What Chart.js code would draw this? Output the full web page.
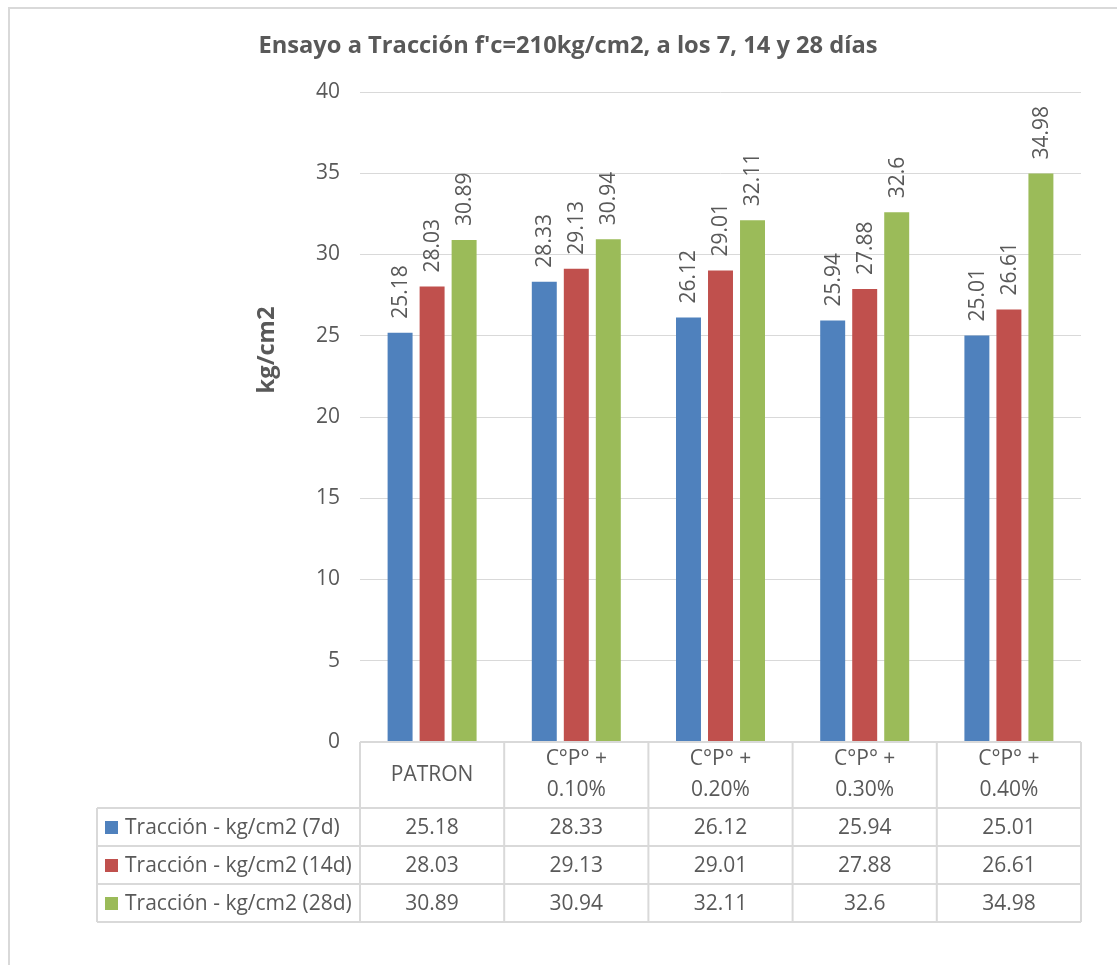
<!DOCTYPE html>
<html>
<head>
<meta charset="utf-8">
<script src="https://cdn.jsdelivr.net/npm/chart.js@4.4.1/dist/chart.umd.min.js"></script>
<style>
html, body { margin: 0; padding: 0; background: #fff; }
canvas { display: block; }
</style>
</head>
<body>
<canvas id="traccionChart" width="1117" height="965"></canvas>
<script>
// categorias (cada una en lineas para la fila de encabezado de la tabla)
var categorias = [['PATRON'], ['C°P° +', '0.10%'], ['C°P° +', '0.20%'], ['C°P° +', '0.30%'], ['C°P° +', '0.40%']];
var series = ['Tracción - kg/cm2 (7d)', 'Tracción - kg/cm2 (14d)', 'Tracción - kg/cm2 (28d)'];
var traccion7d = [25.18, 28.33, 26.12, 25.94, 25.01];
var traccion14d = [28.03, 29.13, 29.01, 27.88, 26.61];
var traccion28d = [30.89, 30.94, 32.11, 32.6, 34.98];
var colores = ['#4F81BD', '#C0504D', '#9BBB59'];
var yMin = 0, yMax = 40, yPaso = 5;

var titulo = "Ensayo a Tracción f'c=210kg/cm2, a los 7, 14 y 28 días";
var tituloEje = 'kg/cm2';
var fuente = '"Open Sans", "Noto Sans", sans-serif';
var gris = '#595959';
var linea = '#d9d9d9';

var valores = [traccion7d, traccion14d, traccion28d];

// dibuja marco, titulos, etiquetas de valores y tabla de datos
var extras = {
    id: 'extras',
    afterDraw: function(chart) {
        var ctx = chart.ctx;
        var area = chart.chartArea;
        var xs = chart.scales.x;
        ctx.save();

        // marco del grafico
        ctx.strokeStyle = linea;
        ctx.lineWidth = 2;
        ctx.strokeRect(9, 8, 1200, 1200);

        // titulo
        ctx.fillStyle = gris;
        ctx.font = 'bold 23.7px ' + fuente;
        ctx.textAlign = 'center';
        ctx.textBaseline = 'middle';
        ctx.fillText(titulo, 568, 46);

        // titulo eje y
        ctx.save();
        ctx.translate(267, 350);
        ctx.rotate(-Math.PI / 2);
        ctx.fillText(tituloEje, 0, 0);
        ctx.restore();

        // etiquetas sobre las barras
        ctx.font = '21px ' + fuente;
        ctx.textAlign = 'left';
        valores.forEach(function(serie, i) {
            var meta = chart.getDatasetMeta(i);
            meta.data.forEach(function(bar, j) {
                ctx.save();
                ctx.translate(bar.x + 1, bar.y - 14);
                ctx.rotate(-Math.PI / 2);
                ctx.fillText(String(serie[j]), 0, 0);
                ctx.restore();
            });
        });

        // tabla de datos
        var n = categorias.length;
        var ancho = (area.right - area.left) / n;
        var top = area.bottom;
        var filaEnc = 66, fila = 38;
        var izq = 97;
        var fondo = top + filaEnc + fila * series.length;

        ctx.strokeStyle = linea;
        ctx.lineWidth = 2;
        ctx.beginPath();
        // lineas horizontales
        ctx.moveTo(area.left, top); ctx.lineTo(area.right, top);
        for (var r = 0; r <= series.length; r++) {
            var yy = top + filaEnc + r * fila;
            ctx.moveTo(izq, yy); ctx.lineTo(area.right, yy);
        }
        // lineas verticales
        ctx.moveTo(izq, top + filaEnc); ctx.lineTo(izq, fondo);
        for (var c = 0; c <= n; c++) {
            var xx = area.left + c * ancho;
            ctx.moveTo(xx, top); ctx.lineTo(xx, fondo);
        }
        ctx.stroke();

        ctx.fillStyle = gris;
        ctx.font = '21px ' + fuente;
        ctx.textAlign = 'center';
        ctx.textBaseline = 'middle';
        categorias.forEach(function(lineas, j) {
            var cx = xs.getPixelForValue(j);
            var alto = 31;
            var y0 = top + filaEnc / 2 - (lineas.length - 1) * alto / 2;
            lineas.forEach(function(t, k) {
                ctx.fillText(t, cx, y0 + k * alto);
            });
        });

        series.forEach(function(nombre, i) {
            var cy = top + filaEnc + i * fila + fila / 2;
            ctx.fillStyle = colores[i];
            ctx.fillRect(105, cy - 6, 13, 13);
            ctx.fillStyle = gris;
            ctx.textAlign = 'left';
            ctx.fillText(nombre, 125, cy + 1);
            ctx.textAlign = 'center';
            valores[i].forEach(function(v, j) {
                ctx.fillText(String(v), xs.getPixelForValue(j), cy + 1);
            });
        });

        ctx.restore();
    }
};

var ctxB = document.getElementById('traccionChart').getContext('2d');
var grafico = new Chart(ctxB, {
    type: 'bar',
    data: {
        labels: categorias.map(function(l) { return l.join(' '); }),
        datasets: series.map(function(nombre, i) {
            return {
                label: nombre,
                data: valores[i],
                backgroundColor: colores[i],
                borderWidth: 0,
                categoryPercentage: 0.666,
                barPercentage: 0.78
            };
        })
    },
    options: {
        responsive: false,
        animation: false,
        devicePixelRatio: 1,
        layout: { padding: { left: 0, right: 36, top: 92, bottom: 223 } },
        plugins: {
            legend: { display: false },
            title: { display: false },
            tooltip: { enabled: false }
        },
        scales: {
            x: { display: false },
            y: {
                min: yMin,
                max: yMax,
                border: { display: false },
                grid: { color: linea, lineWidth: 1, drawTicks: false },
                ticks: {
                    stepSize: yPaso,
                    padding: 20,
                    color: gris,
                    font: { family: fuente, size: 21 }
                },
                afterFit: function(scale) { scale.width = 360; }
            }
        }
    },
    plugins: [extras]
});
</script>
</body>
</html>
